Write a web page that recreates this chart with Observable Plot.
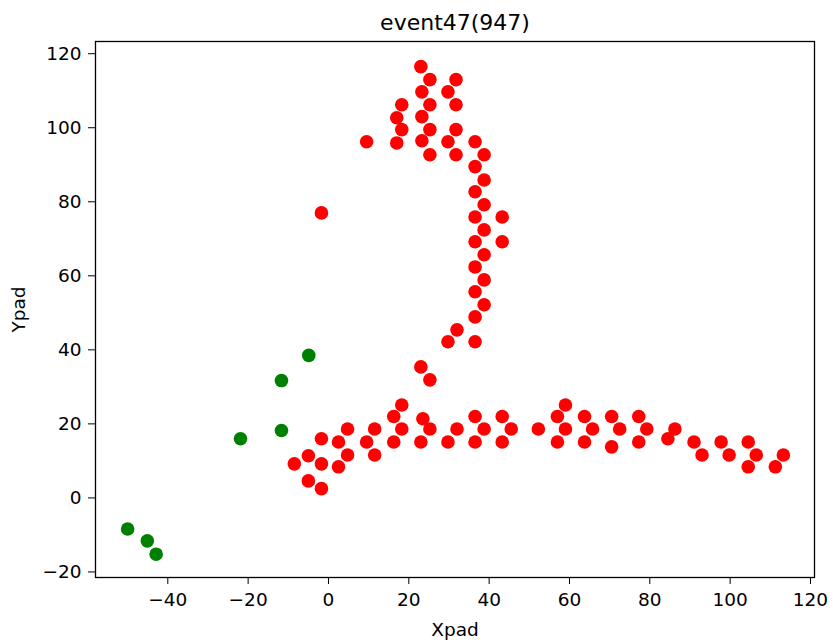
<!DOCTYPE html>
<html>
<head>
<meta charset="utf-8">
<script src="https://cdn.jsdelivr.net/npm/d3@7"></script>
<script src="https://cdn.jsdelivr.net/npm/@observablehq/plot@0.6"></script>
<style>
  html, body { margin: 0; padding: 0; background: #fff; }
</style>
</head>
<body>
<div id="chart"></div>
<script>
const title = "event47(947)";
const xLabel = "Xpad";
const yLabel = "Ypad";
const xTicks = [-40, -20, 0, 20, 40, 60, 80, 100, 120];
const yTicks = [-20, 0, 20, 40, 60, 80, 100, 120];

const greenX = [-50.0, -45.1, -42.9, -21.9, -11.7, -11.7, -4.9];
const greenY = [-8.4, -11.6, -15.2, 16.0, 18.2, 31.7, 38.5];

const redX = [
  -8.5, -5, -5, -1.75, -1.75, -1.75, 2.5, 2.5, 4.75, 4.75, 9.5, 11.5, 11.5, 16.25, 16.25, 18.25, 18.25,
  23, 23.5, 25.25, 29.75, 32, 36.5, 36.5, 38.75, 43.25, 43.25, 45.5, 52.25, 57, 57, 59, 59, 63.75, 63.75,
  65.75, 70.5, 70.5, 72.5, 77.25, 77.25, 79.25, 84.5, 86.25, 91, 93, 97.75, 99.75, 104.5, 104.5, 106.5,
  111.25, 113.25,
  -1.75, 23, 25.25, 29.75, 36.5, 32, 36.5, 38.75, 36.5, 38.75, 36.5, 38.75, 36.5, 43.25, 38.75, 36.5,
  43.25, 38.75, 36.5, 38.75, 36.5, 38.75,
  23, 25.25, 31.75, 23.25, 29.75, 18.25, 25.25, 31.75, 17, 23.25, 18.25, 25.25, 31.75, 9.5, 17, 23.25,
  29.75, 36.5, 25.25, 31.75
];
const redY = [
  9.2, 4.6, 11.4, 16, 9.2, 2.5, 15.1, 8.4, 18.6, 11.6, 15.1, 18.6, 11.6, 15.1, 22, 25.1, 18.6,
  15.1, 21.4, 18.6, 15.1, 18.6, 22, 15.1, 18.6, 22, 15.1, 18.6, 18.6, 15.1, 22, 25.1, 18.6, 15.1, 22,
  18.6, 22, 13.8, 18.6, 22, 15.1, 18.6, 16, 18.6, 15.1, 11.6, 15.1, 11.6, 15.1, 8.4, 11.6,
  8.4, 11.6,
  77, 35.4, 31.9, 42.2, 42.2, 45.4, 48.9, 52.2, 55.7, 58.9, 62.4, 65.7, 69.2, 69.2, 72.4, 75.9,
  75.9, 79.2, 82.7, 85.9, 89.5, 92.7,
  116.5, 113, 113, 109.7, 109.7, 106.2, 106.2, 106.2, 102.7, 103, 99.5, 99.5, 99.5, 96.2, 95.9, 96.5,
  96.2, 96.2, 92.7, 92.7
];

const green = greenX.map((x, i) => ({x, y: greenY[i]}));
const red = redX.map((x, i) => ({x, y: redY[i]}));
const fmt = d => d < 0 ? "\u2212" + Math.abs(d) : String(d);

const plot = Plot.plot({
  width: 833,
  height: 640,
  marginLeft: 95,
  marginRight: 19,
  marginTop: 41,
  marginBottom: 63,
  style: {fontFamily: "DejaVu Sans", fontSize: "18.5px", color: "#000", background: "#fff", overflow: "visible"},
  x: {domain: [-58, 121]},
  y: {domain: [-21.5, 123.3]},
  marks: [
    Plot.dot(red, {x: "x", y: "y", r: 6.8, fill: "#ff0000", stroke: "none"}),
    Plot.dot(green, {x: "x", y: "y", r: 6.8, fill: "#008000", stroke: "none"}),
    Plot.frame({stroke: "#000", strokeWidth: 1.3}),
    Plot.axisX({ticks: xTicks, tickSize: 7, tickPadding: 8, tickFormat: fmt,
      label: xLabel, labelAnchor: "center", labelArrow: "none", labelOffset: 58, fontSize: 18.5}),
    Plot.axisY({ticks: yTicks, tickSize: 7, tickPadding: 7, tickFormat: fmt,
      label: yLabel, labelAnchor: "center", labelArrow: "none", labelOffset: 84, fontSize: 18.5}),
    Plot.text([title], {frameAnchor: "top", lineAnchor: "middle", text: d => d, dy: -19, fontSize: 22, fill: "#000"})
  ]
});
document.getElementById("chart").appendChild(plot);
</script>
</body>
</html>
